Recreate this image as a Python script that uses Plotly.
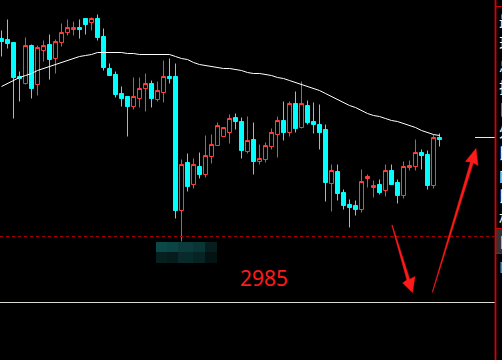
import plotly.graph_objects as go

# ---- data (price units) ----
opens = [3183, 3182, 3179, 3145, 3138, 3176, 3137, 3171, 3177, 3163,
         3179, 3189, 3192, 3194, 3203, 3199, 3203, 3185, 3153, 3147,
         3128, 3125, 3115, 3123, 3133, 3138, 3122, 3129, 3145, 3145,
         3011, 3059, 3037, 3055, 3047, 3065, 3076, 3085, 3089, 3104,
         3100, 3070, 3082, 3060, 3062, 3075, 3087, 3101, 3089, 3118,
         3094, 3116, 3100, 3097, 3092, 3038, 3050, 3029, 3017, 3016,
         3012, 3043, 3034, 3037, 3031, 3051, 3039, 3026, 3054, 3055,
         3069, 3067, 3036, 3084]
highs = [3191, 3202, 3179, 3150, 3184, 3177, 3176, 3181, 3187, 3182,
         3198, 3202, 3200, 3202, 3203, 3204, 3207, 3193, 3158, 3150,
         3135, 3125, 3144, 3144, 3148, 3141, 3140, 3161, 3163, 3158,
         3062, 3068, 3063, 3069, 3086, 3087, 3099, 3094, 3107, 3108,
         3104, 3105, 3099, 3077, 3079, 3093, 3105, 3120, 3120, 3130,
         3140, 3121, 3119, 3117, 3097, 3057, 3057, 3032, 3022, 3021,
         3052, 3047, 3041, 3042, 3057, 3057, 3042, 3060, 3061, 3082,
         3072, 3071, 3087, 3088]
lows = [3165, 3173, 3103, 3120, 3137, 3123, 3126, 3160, 3142, 3148,
        3175, 3186, 3186, 3183, 3187, 3191, 3181, 3151, 3146, 3124,
        3115, 3085, 3112, 3114, 3110, 3114, 3120, 3119, 3138, 3003,
        2980, 3030, 3033, 3043, 3044, 3058, 3076, 3085, 3078, 3092,
        3063, 3068, 3047, 3057, 3059, 3072, 3064, 3081, 3085, 3089,
        3093, 3097, 3088, 3072, 3020, 3010, 3021, 3012, 2994, 3006,
        3009, 3034, 3024, 3027, 3025, 3037, 3018, 3023, 3051, 3051,
        3052, 3032, 3033, 3075]
closes = [3180, 3178, 3144, 3143, 3176, 3133, 3174, 3176, 3162, 3180,
          3189, 3194, 3194, 3192, 3197, 3203, 3184, 3154, 3146, 3127,
          3123, 3115, 3125, 3133, 3138, 3123, 3131, 3145, 3143, 3011,
          3057, 3035, 3057, 3047, 3066, 3077, 3096, 3094, 3103, 3100,
          3071, 3081, 3060, 3063, 3076, 3089, 3101, 3089, 3118, 3093,
          3118, 3099, 3097, 3089, 3039, 3051, 3028, 3016, 3014, 3012,
          3040, 3045, 3036, 3029, 3051, 3037, 3026, 3055, 3056, 3069,
          3066, 3036, 3084, 3082]
ma_line = [3135, 3138, 3141, 3144, 3146, 3148, 3151, 3153, 3155, 3157,
           3159, 3161, 3163, 3165, 3166, 3167, 3169, 3169, 3169, 3169,
           3169, 3168, 3168, 3167, 3167, 3167, 3167, 3167, 3167, 3165,
           3163, 3162, 3159, 3157, 3156, 3155, 3154, 3153, 3153, 3152,
           3151, 3149, 3148, 3148, 3147, 3146, 3144, 3143, 3141, 3139,
           3137, 3135, 3133, 3131, 3128, 3125, 3122, 3119, 3116, 3114,
           3111, 3108, 3106, 3105, 3103, 3101, 3100, 3098, 3096, 3094,
           3091, 3089, 3087, 3086]
idx = list(range(len(opens)))

support_level = 2985
lower_level = 2919
last_price = 3084
label_text = "2985"
panel_chars = ["最", "现", "总", "振", "日", "外", "比", "内", "比", "相"]

W, H = 502, 360
TOP = 3221.5


def px(x):
    return x / W


def py(y):
    return 1 - y / H


fig = go.Figure()
fig.add_trace(go.Candlestick(
    x=idx, open=opens, high=highs, low=lows, close=closes,
    increasing=dict(line=dict(color="#ff3c3c", width=1), fillcolor="#000000"),
    decreasing=dict(line=dict(color="#00ffff", width=1), fillcolor="#00ffff"),
    whiskerwidth=0, hoverinfo="skip", showlegend=False,
))
fig.add_trace(go.Scatter(
    x=idx, y=ma_line, mode="lines", line=dict(color="#ffffff", width=1),
    hoverinfo="skip", showlegend=False,
))

shapes = []
shapes.append(dict(type="line", xref="paper", yref="y", x0=0, x1=px(494),
                   y0=support_level, y1=support_level,
                   line=dict(color="#a80000", width=1, dash="3px,3px")))
shapes.append(dict(type="line", xref="paper", yref="y", x0=0, x1=px(495),
                   y0=lower_level, y1=lower_level,
                   line=dict(color="#dcd8d4", width=1)))
shapes.append(dict(type="line", xref="paper", yref="y", x0=px(475), x1=px(495),
                   y0=last_price, y1=last_price,
                   line=dict(color="#e8e8e8", width=1)))
# mosaic block
cols = [156, 167, 178, 193, 205, 217]
rows = [242, 252, 263]
mosaic = [["#0b4848", "#0a4444", "#0b3b3b", "#0a3535", "#061e1e"],
          ["#062020", "#061c1c", "#082a2a", "#072424", "#041212"]]
for r in range(2):
    for c in range(5):
        shapes.append(dict(type="rect", xref="paper", yref="paper",
                           x0=px(cols[c]), x1=px(cols[c + 1]),
                           y0=py(rows[r + 1]), y1=py(rows[r]),
                           line=dict(width=0), fillcolor=mosaic[r][c], layer="below"))
# right panel
shapes.append(dict(type="rect", xref="paper", yref="paper",
                   x0=px(496), x1=px(503), y0=py(253), y1=py(229),
                   line=dict(width=0), fillcolor="#333333"))
shapes.append(dict(type="rect", xref="paper", yref="paper",
                   x0=px(494.6), x1=px(496.4), y0=-0.01, y1=1.01,
                   line=dict(width=0), fillcolor="#d80000"))
for yy in [6, 228, 253]:
    shapes.append(dict(type="rect", xref="paper", yref="paper",
                       x0=px(495), x1=px(503), y0=py(yy + 1), y1=py(yy),
                       line=dict(width=0), fillcolor="#d80000"))


def arrow_path(pts):
    return "M " + " L ".join(f"{px(a):.5f},{py(b):.5f}" for a, b in pts) + " Z"


a1 = [(391.7, 225.1), (392.3, 224.9), (409.7, 279.2), (415.0, 276.5),
      (412.5, 292.5), (402.7, 283.0), (406.9, 280.0)]
a2 = [(432.2, 292.2), (432.6, 292.3), (473.3, 162.8), (478.0, 165.5),
      (476.0, 148.5), (465.5, 161.5), (470.5, 161.9)]
for pth in (a1, a2):
    shapes.append(dict(type="path", xref="paper", yref="paper",
                       path=arrow_path(pth), fillcolor="#ff1a1a",
                       line=dict(color="#ff1a1a", width=0.5)))

annotations = [dict(text=label_text, xref="paper", yref="paper",
                    x=px(263.5), y=py(278), xanchor="center", yanchor="middle",
                    showarrow=False,
                    font=dict(family="Noto Sans", size=21, color="#ff1a1a"))]
char_y = [20, 42, 64, 86, 108, 130, 152, 174, 196, 218]
for ch, yy in zip(panel_chars, char_y):
    annotations.append(dict(text=ch, xref="paper", yref="paper",
                            x=px(497), y=py(yy), xanchor="left", yanchor="middle",
                            showarrow=False,
                            font=dict(family="Noto Sans CJK SC", size=15, color="#ffffff")))
annotations.append(dict(text="自", xref="paper", yref="paper",
                        x=px(497), y=py(241), xanchor="left", yanchor="middle",
                        showarrow=False,
                        font=dict(family="Noto Sans CJK SC", size=15, color="#ffffff")))
annotations.append(dict(text="Ε", xref="paper", yref="paper",
                        x=px(497), y=py(266), xanchor="left", yanchor="middle",
                        showarrow=False,
                        font=dict(family="Noto Sans CJK SC", size=15, color="#888888")))

fig.update_layout(
    width=W, height=H, margin=dict(l=0, r=0, t=0, b=0),
    paper_bgcolor="#000000", plot_bgcolor="#000000",
    boxgap=1 / 3, boxgroupgap=0,
    xaxis=dict(range=[-0.25, -0.25 + W / 6], visible=False, showgrid=False,
               zeroline=False, rangeslider=dict(visible=False), fixedrange=True),
    yaxis=dict(range=[TOP - H, TOP], visible=False, showgrid=False,
               zeroline=False, fixedrange=True),
    shapes=shapes, annotations=annotations, showlegend=False,
    hovermode=False,
)

fig.write_html("out.html", config=dict(displayModeBar=False))
